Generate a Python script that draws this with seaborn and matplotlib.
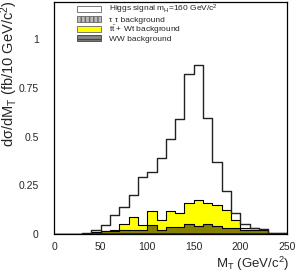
import numpy as np
import pandas as pd
import matplotlib
matplotlib.use("Agg")
import matplotlib.pyplot as plt
import seaborn as sns
from matplotlib.patches import Patch
from matplotlib.ticker import MultipleLocator, FuncFormatter

# bin centres in M_T (GeV/c^2), 10 GeV bins from 0 to 250
centers = np.arange(5, 250, 10)

# Higgs signal (m_H = 160)
higgs = [0, 0, 0, 0.005, 0.02, 0.048, 0.095, 0.14, 0.2, 0.29, 0.32, 0.39, 0.485,
         0.59, 0.82, 0.865, 0.595, 0.37, 0.22, 0.11, 0.05, 0.03, 0.025, 0.005, 0.003]
# WW background
ww = [0, 0, 0, 0, 0.008, 0.01, 0.012, 0.015, 0.02, 0.015, 0.045, 0.02, 0.032,
      0.032, 0.05, 0.04, 0.047, 0.036, 0.027, 0.03, 0.02, 0.02, 0.02, 0.003, 0.003]
# tt + Wt background
ttwt = [0, 0, 0, 0, 0, 0, 0.006, 0.035, 0.065, 0.03, 0.07, 0.05, 0.083,
        0.073, 0.105, 0.13, 0.111, 0.112, 0.093, 0.04, 0.01, 0.006, 0.002, 0, 0]
# tau tau background
tautau = [0, 0, 0, 0, 0.003, 0.003, 0.003, 0.003, 0.003, 0.003, 0.003, 0.003, 0.003,
          0.003, 0.003, 0.003, 0.003, 0.003, 0.003, 0.003, 0.003, 0.003, 0.003, 0.003, 0.003]

df = pd.DataFrame({"mt": centers, "higgs": higgs, "ww": ww, "tt": ttwt, "tautau": tautau})
df["stack_ww"] = df["tautau"] + df["ww"]
df["stack_tt"] = df["stack_ww"] + df["tt"]

sns.set_style("white")
plt.rcParams["font.family"] = ["Liberation Sans", "DejaVu Sans"]
plt.rcParams["mathtext.default"] = "regular"

fig = plt.figure(figsize=(2.96, 2.76), dpi=100)
ax = fig.add_axes([54 / 296, 42 / 276, 233 / 296, 232 / 276])

hist_kw = dict(x="mt", binwidth=10, binrange=(0, 250), element="step")

# stacked backgrounds, drawn from the top of the stack down
sns.histplot(data=df, weights="stack_tt", fill=True, color="#ffff00", edgecolor="black",
             linewidth=0.8, alpha=1, ax=ax, **hist_kw)
sns.histplot(data=df, weights="stack_ww", fill=True, color="#858000", edgecolor="black",
             linewidth=0.8, alpha=1, ax=ax, **hist_kw)
sns.histplot(data=df, weights="tautau", fill=True, color="#6a6a40", edgecolor="#222222",
             linewidth=0.6, alpha=1, ax=ax, **hist_kw)
# signal
sns.histplot(data=df, weights="higgs", fill=False, color="#222222", linewidth=1.0,
             ax=ax, **hist_kw)

ax.set_xlim(0, 250)
ax.set_ylim(0, 1.19)
ax.xaxis.set_major_locator(MultipleLocator(50))
ax.xaxis.set_minor_locator(MultipleLocator(10))
ax.yaxis.set_major_locator(MultipleLocator(0.25))
ax.yaxis.set_minor_locator(MultipleLocator(0.05))
ax.yaxis.set_major_formatter(FuncFormatter(lambda v, p: "%g" % v))
ax.tick_params(axis="y", which="major", direction="in", length=9, width=0.8,
               color="#555555", pad=11, labelsize=7.5)
ax.tick_params(axis="y", which="minor", direction="in", length=4.5, width=0.8, color="#555555")
ax.tick_params(axis="x", which="major", direction="in", length=4.5, width=0.8,
               color="#555555", pad=6, labelsize=7.5)
ax.tick_params(axis="x", which="minor", direction="in", length=2.5, width=0.8, color="#555555")
for s in ax.spines.values():
    s.set_color("black")
    s.set_linewidth(0.9)

ax.set_ylabel("")
ax.set_xlabel("")
fig.text(289 / 296, 1 - 264 / 276, "M$_T$ (GeV/c$^2$)", ha="right", va="center", fontsize=9.5)
fig.text(0.032, 0.998, "d\u03c3/dM$_T$ (fb/10 GeV/c$^2$)", rotation=90,
         ha="center", va="top", fontsize=10.5)

handles = [
    Patch(facecolor="white", edgecolor="#666666", linewidth=0.6),
    Patch(facecolor="#bbbbbb", edgecolor="#666666", hatch="||||", linewidth=0.6),
    Patch(facecolor="#ffff00", edgecolor="#666666", linewidth=0.6),
    Patch(facecolor="#888888", edgecolor="#444444", hatch="----", linewidth=0.6),
]
labels = [
    "Higgs signal m$_H$=160 GeV/c$^2$",
    "\u03c4 \u03c4 background",
    "t$\\bar{t}$ + Wt background",
    "WW background",
]
leg = ax.legend(handles, labels, loc="upper left", bbox_to_anchor=(0.10, 0.995),
                frameon=False, fontsize=6, borderaxespad=0, borderpad=0,
                handlelength=2.9, handleheight=0.75, labelspacing=-0.08, handletextpad=0.9)

fig.savefig("out.png", dpi=100)
